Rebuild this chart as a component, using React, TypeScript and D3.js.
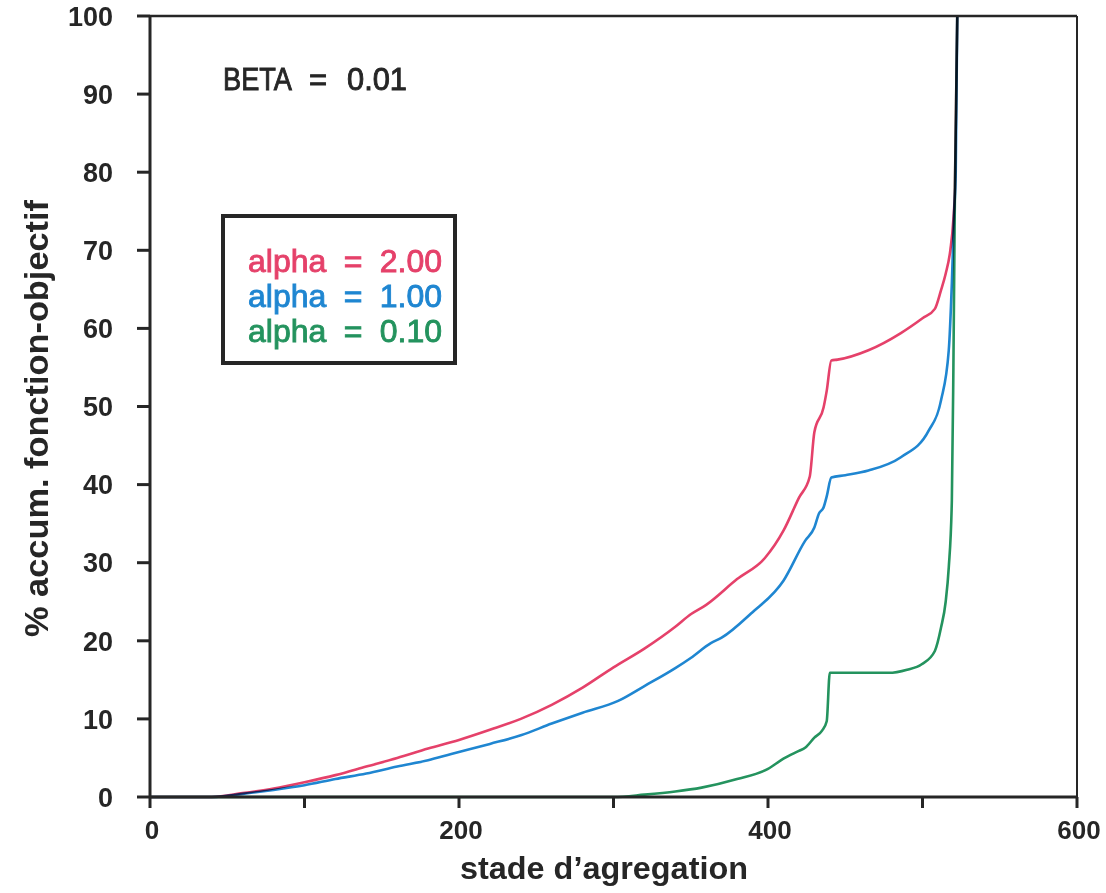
import React from "react";
import * as d3 from "d3";

const xTicks = [0, 100, 200, 300, 400, 500, 600];
const xTickLabels = ["0", "", "200", "", "400", "", "600"];
const yTicks = [0, 10, 20, 30, 40, 50, 60, 70, 80, 90, 100];

const redX = [0, 40, 60, 80, 100, 120, 140, 160, 180, 200, 220, 240, 260, 280, 300, 320, 340, 350, 360, 380, 398, 410, 420, 427, 430, 436, 438, 441, 445, 465, 486, 500, 508, 512, 515, 518, 520, 521, 522.5];
const redY = [0, 0, 0.5, 1.1, 1.9, 2.8, 3.9, 5.0, 6.2, 7.3, 8.6, 10.0, 11.8, 14.0, 16.6, 19.0, 21.8, 23.4, 24.6, 27.9, 30.6, 34.1, 38.3, 41.0, 46.7, 49.9, 52.0, 55.9, 56.0, 57.2, 59.4, 61.3, 62.5, 64.9, 67.0, 70.0, 74.0, 78.0, 100];

const blueX = [0, 40, 60, 80, 100, 120, 140, 160, 180, 195, 220, 240, 260, 280, 303, 320, 340, 350, 363, 370, 389, 410, 424, 430, 433, 436, 438, 441, 450, 465, 486, 504, 512, 517, 519, 520.5, 521.5, 522.5];
const blueY = [0, 0, 0.4, 0.9, 1.5, 2.3, 3.0, 3.9, 4.7, 5.5, 6.8, 7.9, 9.4, 10.8, 12.3, 14.2, 16.5, 17.8, 19.7, 20.4, 23.5, 27.7, 32.8, 34.5, 36.3, 37.1, 38.5, 40.9, 41.2, 41.8, 43.5, 46.9, 50.8, 57.2, 65.8, 75.0, 80.0, 100];

const greenX = [0, 300, 320, 340, 357, 380, 400, 410, 420, 424, 430, 435, 438, 440, 460, 478, 490, 499.5, 508, 512, 515, 517, 519, 520, 521, 522.5];
const greenY = [0, 0, 0.3, 0.7, 1.2, 2.3, 3.6, 4.9, 5.9, 6.3, 7.6, 8.5, 9.7, 15.9, 15.9, 15.9, 16.3, 17.0, 18.7, 21.7, 25.0, 29.4, 38.0, 55.0, 78.0, 100];

const legendLabels = ["alpha", "alpha", "alpha"];
const legendValues = ["2.00", "1.00", "0.10"];
const seriesColors = ["#e5416a", "#1f86d1", "#24935e"];
const betaName = "BETA";
const betaValue = "0.01";
const xTitle = "stade d\u2019agregation";
const yTitle = "% accum. fonction-objectif";

export default function App() {
  const x = d3.scaleLinear().domain([0, 600]).range([150, 1077]);
  const y = d3.scaleLinear().domain([0, 100]).range([797, 16]);
  const line = d3
    .line<[number, number]>()
    .x((d) => x(d[0]))
    .y((d) => y(d[1]))
    .curve(d3.curveMonotoneX);
  const series = [
    { xs: greenX, ys: greenY, color: seriesColors[2] },
    { xs: blueX, ys: blueY, color: seriesColors[1] },
    { xs: redX, ys: redY, color: seriesColors[0] },
  ];
  const ink = "#262626";
  const tickFont = "'Liberation Sans', Arial, sans-serif";
  const textFont = "'Liberation Sans', Arial, sans-serif";

  return (
    <svg
      width={1106}
      height={893}
      style={{ position: "absolute", left: 0, top: 0, background: "#fff" }}
    >
      <rect x={0} y={0} width={1106} height={893} fill="#fff" />
      {/* curves */}
      <g style={{ isolation: "isolate" }}>
        {series.map((s, i) => (
          <path
            key={i}
            d={line(s.xs.map((v, j) => [v, s.ys[j]] as [number, number])) || ""}
            fill="none"
            stroke={s.color}
            strokeWidth={2.6}
            strokeLinejoin="round"
            style={{ mixBlendMode: "multiply" }}
          />
        ))}
      </g>
      {/* frame */}
      <line x1={x(0)} x2={x(600)} y1={y(100)} y2={y(100)} stroke={ink} strokeWidth={2.5} />
      <line x1={x(600)} x2={x(600)} y1={y(100)} y2={y(0)} stroke={ink} strokeWidth={2} />
      <line x1={x(0)} x2={x(0)} y1={y(100)} y2={y(0)} stroke={ink} strokeWidth={3} />
      <line x1={x(0)} x2={x(600)} y1={y(0)} y2={y(0)} stroke={ink} strokeWidth={3} />
      {/* y ticks */}
      {yTicks.map((t) => (
        <g key={"y" + t}>
          <line x1={x(0) - 13} x2={x(0)} y1={y(t)} y2={y(t)} stroke={ink} strokeWidth={3} />
          <text
            x={113}
            y={y(t)}
            dy="0.36em"
            textAnchor="end"
            fontFamily={tickFont}
            fontWeight="bold"
            fontSize={27}
            fill={ink}
          >
            {t}
          </text>
        </g>
      ))}
      {/* x ticks */}
      {xTicks.map((t, i) => (
        <g key={"x" + t}>
          <line x1={x(t)} x2={x(t)} y1={y(0)} y2={y(0) + 11} stroke={ink} strokeWidth={3} />
          {xTickLabels[i] && (
            <text
              x={x(t) + 2}
              y={839}
              textAnchor="middle"
              fontFamily={tickFont}
              fontWeight="bold"
              fontSize={26}
              fill={ink}
            >
              {xTickLabels[i]}
            </text>
          )}
        </g>
      ))}
      {/* axis titles */}
      <text
        x={604}
        y={879}
        textAnchor="middle"
        fontFamily={textFont}
        fontWeight="bold"
        fontSize={31}
        fill={ink}
        textLength={288}
        lengthAdjust="spacingAndGlyphs"
      >
        {xTitle}
      </text>
      <text
        transform={`translate(48,418.5) rotate(-90)`}
        textAnchor="middle"
        fontFamily={textFont}
        fontWeight="bold"
        fontSize={33}
        fill={ink}
        textLength={437}
        lengthAdjust="spacingAndGlyphs"
      >
        {yTitle}
      </text>
      {/* beta label */}
      <g fontFamily={textFont} fontSize={31} fill={ink} stroke={ink} strokeWidth={0.9}>
        <text x={223} y={90} textLength={69} lengthAdjust="spacingAndGlyphs">{betaName}</text>
        <text x={318} y={90} textAnchor="middle">=</text>
        <text x={347} y={90} textLength={60} lengthAdjust="spacingAndGlyphs">{betaValue}</text>
      </g>
      {/* legend */}
      <rect x={223} y={216} width={232} height={147} fill="#fff" stroke={ink} strokeWidth={4} />
      {legendLabels.map((lab, i) => {
        const by = 272 + i * 35;
        const color = seriesColors[i];
        return (
          <g
            key={"leg" + i}
            fontFamily={textFont}
            fontSize={32}
            fill={color}
            stroke={color}
            strokeWidth={0.9}
          >
            <text x={248} y={by}>{lab}</text>
            <text x={353} y={by} textAnchor="middle">=</text>
            <text x={442} y={by} textAnchor="end">{legendValues[i]}</text>
          </g>
        );
      })}
    </svg>
  );
}
